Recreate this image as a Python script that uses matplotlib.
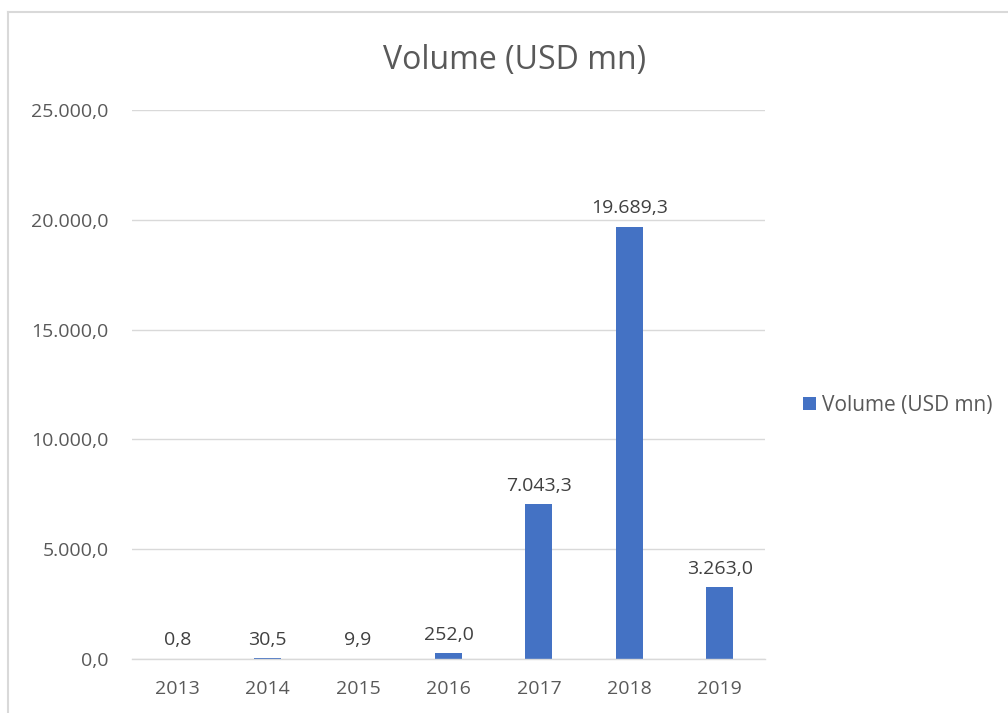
import matplotlib
matplotlib.use("Agg")
import matplotlib.pyplot as plt
from matplotlib.lines import Line2D
from matplotlib.ticker import FuncFormatter, MultipleLocator

# data
years = ['2013', '2014', '2015', '2016', '2017', '2018', '2019']
volume = [0.8, 30.5, 9.9, 252.0, 7043.3, 19689.3, 3263.0]
series_name = 'Volume (USD mn)'

bar_color = '#4472C4'
text_color = '#595959'
grid_color = '#D9D9D9'

plt.rcParams['font.family'] = ['Open Sans', 'DejaVu Sans']


def eu_fmt(v, pos=None):
    # 25000.0 -> "25.000,0"
    s = f'{v:,.1f}'
    return s.replace(',', 'X').replace('.', ',').replace('X', '.')


W, H = 1008, 713
fig = plt.figure(figsize=(W / 100, H / 100), dpi=100)

# chart border (light gray, left and top)
fig.add_artist(Line2D([8 / W, 8 / W], [0, 1 - 12 / H], color='#D9D9D9', lw=1.5))
fig.add_artist(Line2D([8 / W, 1], [1 - 12 / H, 1 - 12 / H], color='#D9D9D9', lw=1.5))

ax = fig.add_axes([132 / W, (H - 659) / H, (765 - 132) / W, (659 - 110) / H])

x = range(len(years))
bars = ax.bar(x, volume, width=0.3, color=bar_color, label=series_name, zorder=3)

ax.set_ylim(0, 25000)
ax.set_xlim(-0.5, len(years) - 0.5)
ax.yaxis.set_major_locator(MultipleLocator(5000))
ax.yaxis.set_major_formatter(FuncFormatter(eu_fmt))
ax.set_xticks(list(x))
ax.set_xticklabels(years)

ax.grid(axis='y', color=grid_color, lw=1, zorder=0)
for side in ['top', 'right', 'left']:
    ax.spines[side].set_visible(False)
ax.spines['bottom'].set_color(grid_color)
ax.spines['bottom'].set_linewidth(1)
ax.spines['bottom'].set_zorder(4)

ax.tick_params(axis='both', length=0, labelsize=14, labelcolor=text_color)
ax.tick_params(axis='x', pad=15)
ax.tick_params(axis='y', pad=17)

for b, v in zip(bars, volume):
    ax.annotate(eu_fmt(v), (b.get_x() + b.get_width() / 2, b.get_height()),
                xytext=(0, 7), textcoords='offset points',
                ha='center', va='bottom', fontsize=14, color='#404040')

fig.text(515 / W, 1 - 60 / H, series_name, ha='center', va='center',
         fontsize=23, color=text_color)

ax.legend(loc='center left', bbox_to_anchor=(803 / W, 1 - 405 / H),
          bbox_transform=fig.transFigure, frameon=False, fontsize=15,
          handlelength=0.6, handleheight=0.6, handletextpad=0.3,
          borderpad=0, borderaxespad=0, labelcolor=text_color)

fig.savefig('out.png', dpi=100)
